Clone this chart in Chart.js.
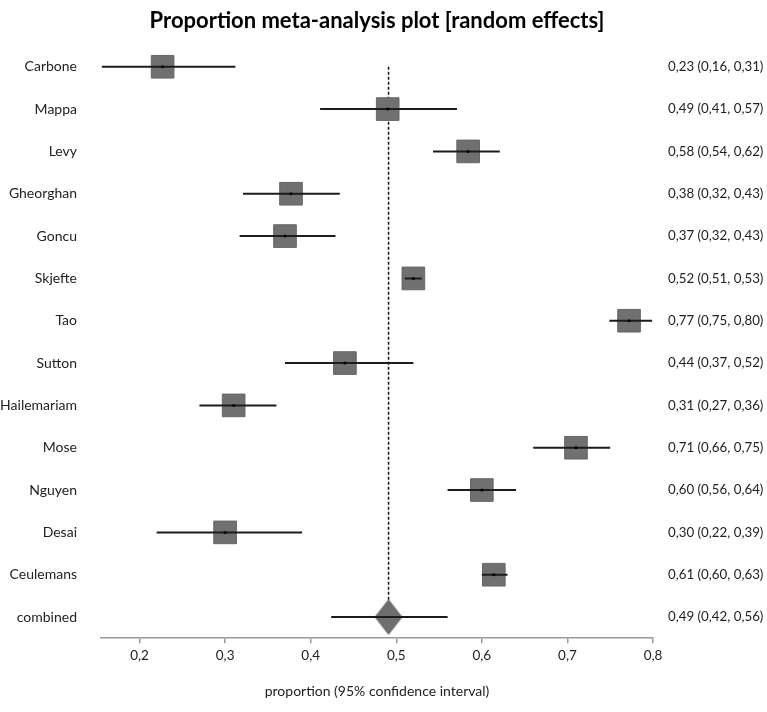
<!DOCTYPE html>
<html>
<head>
<meta charset="utf-8">
<script src="https://cdn.jsdelivr.net/npm/chart.js@4/dist/chart.umd.min.js"></script>
<style>
  html, body { margin: 0; padding: 0; background: #fff; }
</style>
</head>
<body>
<canvas id="chart" width="767" height="712"></canvas>
<script>
// rows top to bottom, last row is the pooled estimate
const studies = ['Carbone', 'Mappa', 'Levy', 'Gheorghan', 'Goncu', 'Skjefte', 'Tao',
  'Sutton', 'Hailemariam', 'Mose', 'Nguyen', 'Desai', 'Ceulemans', 'combined'];
const estimates = [0.227, 0.490, 0.584, 0.377, 0.370, 0.52, 0.772, 0.44, 0.31, 0.71, 0.60, 0.30, 0.614, 0.491];
const lower = [0.156, 0.411, 0.543, 0.321, 0.317, 0.51, 0.749, 0.37, 0.27, 0.66, 0.56, 0.22, 0.60, 0.424];
const upper = [0.312, 0.571, 0.621, 0.434, 0.429, 0.53, 0.799, 0.52, 0.36, 0.75, 0.64, 0.39, 0.63, 0.56];
const xTicks = [0.2, 0.3, 0.4, 0.5, 0.6, 0.7, 0.8];

const fmt = (v) => v.toFixed(2).replace('.', ',');
const ciLabels = estimates.map((e, i) => `${fmt(e)} (${fmt(lower[i])}, ${fmt(upper[i])})`);

const last = studies.length - 1;
const rowTicks = (scale) => { scale.ticks = studies.map((_, i) => ({ value: i })); };

// diamond marker for the pooled estimate
const diamond = document.createElement('canvas');
diamond.width = 28;
diamond.height = 36;
const dctx = diamond.getContext('2d');
dctx.fillStyle = '#6e6e6e';
dctx.beginPath();
dctx.moveTo(14, 0);
dctx.lineTo(28, 18);
dctx.lineTo(14, 36);
dctx.lineTo(0, 18);
dctx.closePath();
dctx.fill();

Chart.defaults.font.family = 'Lato, "Open Sans", sans-serif';
Chart.defaults.color = '#222';

const ciSets = studies.map((name, i) => ({
  data: [{ x: lower[i], y: i }, { x: upper[i], y: i }],
  showLine: true,
  borderColor: '#1c1c1c',
  borderWidth: 2,
  pointRadius: 0,
  order: 2,
}));

new Chart(document.getElementById('chart'), {
  type: 'scatter',
  data: {
    datasets: [
      {
        data: [{ x: estimates[last], y: 0 }, { x: estimates[last], y: last }],
        showLine: true,
        borderColor: '#111',
        borderWidth: 1.5,
        borderDash: [3, 2],
        pointRadius: 0,
        order: 5,
      },
      {
        data: studies.slice(0, last).map((_, i) => ({ x: estimates[i], y: i })),
        pointStyle: 'rect',
        pointRadius: 16,
        backgroundColor: '#707070',
        borderColor: '#666',
        borderWidth: 1,
        order: 4,
      },
      {
        data: [{ x: estimates[last], y: last }],
        pointStyle: diamond,
        order: 3,
      },
      ...ciSets,
      {
        data: studies.slice(0, last).map((_, i) => ({ x: estimates[i], y: i })),
        pointRadius: 1.5,
        backgroundColor: '#000',
        borderWidth: 0,
        order: 1,
      },
    ],
  },
  options: {
    responsive: false,
    animation: false,
    devicePixelRatio: 1,
    layout: { padding: 0 },
    plugins: {
      legend: { display: false },
      tooltip: { enabled: false },
      title: {
        display: true,
        text: 'Proportion meta-analysis plot [random effects]',
        fullSize: false,
        color: '#000',
        font: { size: 22, weight: 'bold' },
        padding: { top: 8, bottom: 11.2 },
      },
    },
    scales: {
      x: {
        type: 'linear',
        min: 0.155,
        max: 0.8,
        afterBuildTicks: (scale) => { scale.ticks = xTicks.map((v) => ({ value: v })); },
        ticks: {
          callback: (v) => v.toFixed(1).replace('.', ','),
          font: { size: 13.5 },
          padding: 4,
        },
        grid: { drawOnChartArea: false, drawTicks: true, tickLength: 5, color: '#999', lineWidth: 1.5 },
        border: { display: true, color: '#999', width: 1.5 },
        title: {
          display: true,
          text: 'proportion (95% confidence interval)',
          font: { size: 14 },
          padding: { top: 15.8, bottom: 12 },
        },
      },
      y: {
        type: 'linear',
        position: 'left',
        reverse: true,
        min: -0.5,
        max: 13.5,
        afterBuildTicks: rowTicks,
        afterFit: (scale) => { scale.width = 101; },
        ticks: {
          callback: (v, i) => studies[i],
          font: { size: 14 },
          padding: 16,
        },
        grid: { display: false },
        border: { display: false },
      },
      y2: {
        type: 'linear',
        axis: 'y',
        position: 'right',
        reverse: true,
        min: -0.5,
        max: 13.5,
        afterBuildTicks: rowTicks,
        afterFit: (scale) => { scale.width = 114; },
        ticks: {
          callback: (v, i) => ciLabels[i],
          font: { size: 13.3 },
          padding: 7,
        },
        grid: { display: false },
        border: { display: false },
      },
    },
  },
});
</script>
</body>
</html>
